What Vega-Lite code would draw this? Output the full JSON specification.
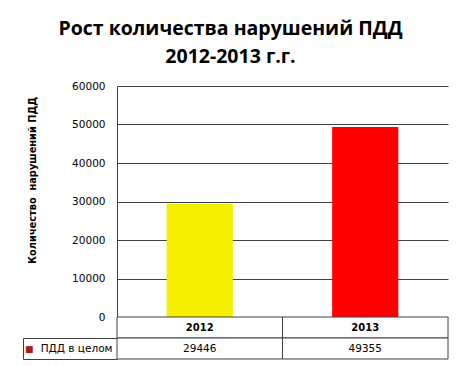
{
  "$schema": "https://vega.github.io/schema/vega-lite/v6.json",
  "padding": {"left": 22, "top": 19, "right": 14, "bottom": 7},
  "background": "white",
  "title": {
    "text": ["Рост количества нарушений ПДД", "2012-2013 г.г."],
    "font": "Open Sans",
    "fontSize": 19.5,
    "fontWeight": "bold",
    "color": "#000000",
    "lineHeight": 27.5,
    "anchor": "middle",
    "offset": 14,
    "dx": -5
  },
  "config": {"view": {"stroke": null}, "font": "DejaVu Sans"},
  "datasets": {
    "pdd": [
      {"year": "2012", "value": 29446, "series": "ПДД в целом"},
      {"year": "2013", "value": 49355, "series": "ПДД в целом"}
    ]
  },
  "spacing": 0,
  "bounds": "flush",
  "vconcat": [
    {
      "width": 331,
      "height": 231,
      "data": {"name": "pdd"},
      "mark": {"type": "bar", "width": {"band": 0.4}},
      "encoding": {
        "x": {"field": "year", "type": "nominal", "scale": {"paddingInner": 0, "paddingOuter": 0}, "axis": null},
        "y": {
          "field": "value", "type": "quantitative",
          "scale": {"domain": [0, 60000]},
          "axis": {
            "values": [0, 10000, 20000, 30000, 40000, 50000, 60000],
            "format": "d",
            "grid": true, "gridColor": "#404040", "gridWidth": 1, "gridOpacity": 1,
            "domain": true, "domainColor": "#404040",
            "ticks": false,
            "labelPadding": 12, "labelFont": "DejaVu Sans", "labelFontSize": 10.5, "labelColor": "#000000",
            "title": "Количество\u00a0 нарушений ПДД",
            "titleFont": "DejaVu Sans", "titleFontSize": 9.8, "titleFontWeight": "bold", "titleColor": "#000000",
            "titleX": -80, "titleY": 94
          }
        },
        "color": {
          "field": "year", "type": "nominal",
          "scale": {"domain": ["2012", "2013"], "range": ["#f4f000", "#ff0000"]},
          "legend": null
        }
      }
    },
    {
      "width": 331,
      "height": 21,
      "data": {"name": "pdd"},
      "layer": [
        {
          "mark": {"type": "rect", "fill": "white", "stroke": "#404040", "strokeWidth": 1},
          "encoding": {
            "x": {"field": "year", "type": "nominal", "scale": {"paddingInner": 0, "paddingOuter": 0}, "axis": null}
          }
        },
        {
          "mark": {"type": "text", "font": "DejaVu Sans", "fontSize": 10, "fontWeight": "bold", "color": "#000000"},
          "encoding": {
            "x": {"field": "year", "type": "nominal", "axis": null},
            "text": {"field": "year"}
          }
        }
      ]
    },
    {
      "width": 331,
      "height": 21,
      "data": {"name": "pdd"},
      "resolve": {"axis": {"y": "independent"}},
      "layer": [
        {
          "mark": {"type": "rect", "fill": "white", "stroke": "#404040", "strokeWidth": 1},
          "encoding": {
            "x": {"field": "year", "type": "nominal", "scale": {"paddingInner": 0, "paddingOuter": 0}, "axis": null},
            "y": {
              "field": "series", "type": "nominal",
              "scale": {"paddingInner": 0, "paddingOuter": 0},
              "axis": {
                "orient": "left", "title": null, "domain": false, "ticks": false,
                "labelPadding": 5, "labelFont": "DejaVu Sans", "labelFontSize": 10.5, "labelColor": "#000000"
              }
            }
          }
        },
        {
          "mark": {"type": "text", "font": "DejaVu Sans", "fontSize": 10.5, "color": "#000000"},
          "encoding": {
            "x": {"field": "year", "type": "nominal", "axis": null},
            "y": {
              "field": "series", "type": "nominal",
              "axis": {
                "orient": "left", "title": null, "domain": false, "ticks": false,
                "labelExpr": "'■'", "labelColor": "#a51d1d", "labelFont": "DejaVu Sans", "labelFontSize": 9,
                "labelPadding": 84
              }
            },
            "text": {"field": "value", "type": "quantitative", "format": "d"}
          }
        },
        {
          "mark": {"type": "rect", "opacity": 0},
          "encoding": {
            "x": {"field": "year", "type": "nominal", "axis": null},
            "y": {
              "field": "series", "type": "nominal",
              "axis": {
                "orient": "left", "title": null, "offset": 94,
                "domain": true, "domainColor": "#404040",
                "ticks": true, "tickBand": "extent", "tickSize": -94, "tickColor": "#404040",
                "labels": false
              }
            }
          }
        }
      ]
    }
  ]
}
